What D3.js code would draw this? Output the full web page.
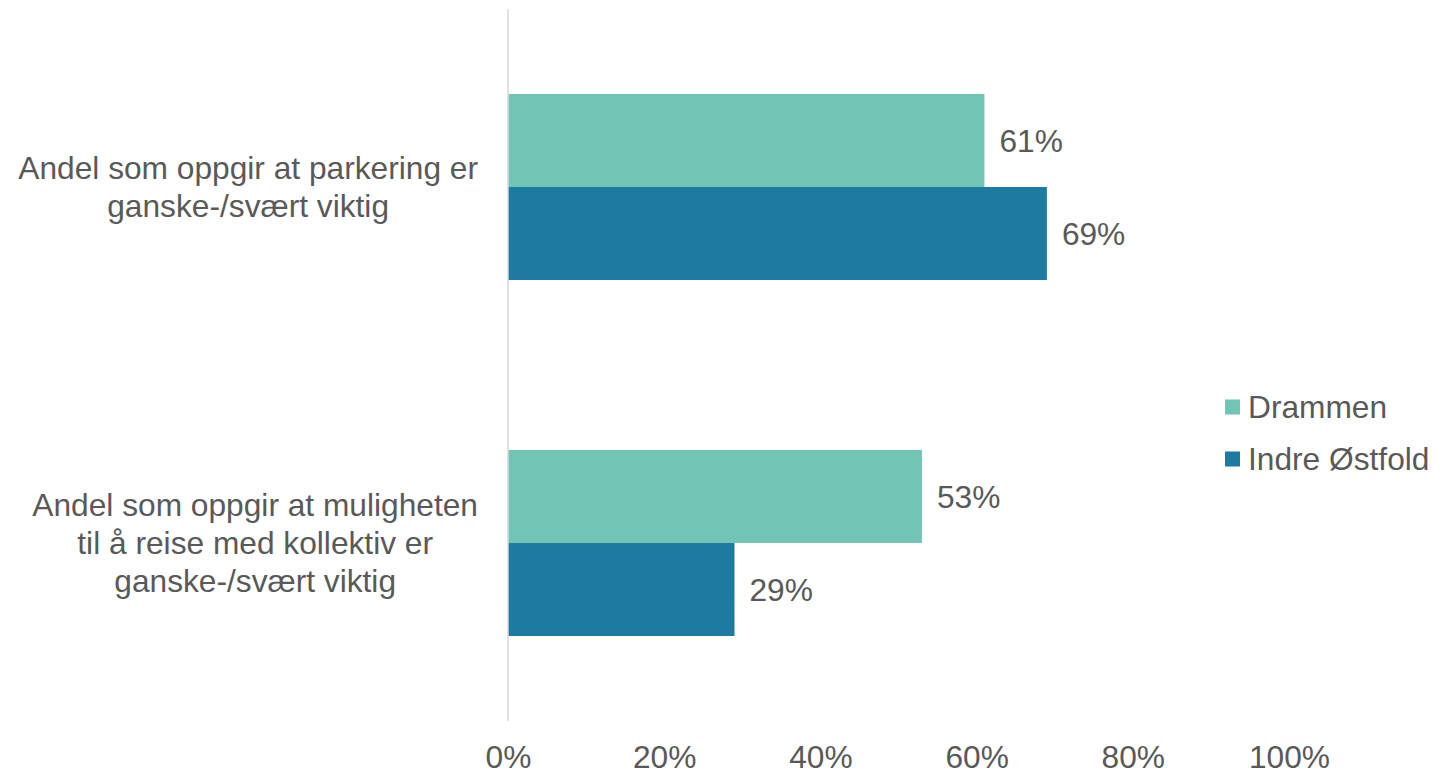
<!DOCTYPE html>
<html><head><meta charset="utf-8">
<script src="https://cdn.jsdelivr.net/npm/d3@7"></script>
<style>
html,body{margin:0;padding:0;background:#fff;}
svg{display:block;font-family:"Liberation Sans",Arial,sans-serif;}
</style></head><body>
<svg id="chart" width="1455" height="775"></svg>
<script>
const categories = [
  ["Andel som oppgir at parkering er", "ganske-/svært viktig"],
  ["Andel som oppgir at muligheten", "til å reise med kollektiv er", "ganske-/svært viktig"]
];
const categoryKeys = ["parkering", "kollektiv"];
const seriesNames = ["Drammen", "Indre Østfold"];
const drammenValues = [0.61, 0.53];
const indreOstfoldValues = [0.69, 0.29];
const tickValues = [0, 0.2, 0.4, 0.6, 0.8, 1.0];
const colors = ["#72C4B5", "#1D7BA1"];

const series = [drammenValues, indreOstfoldValues];
const svg = d3.select("#chart");
const textColor = "#595959";
const fontSize = 31.7;

const x = d3.scaleLinear().domain([0, 1]).range([508, 1289]);
const y = d3.scaleBand().domain(categoryKeys).range([9, 721]).paddingInner(0.4775).paddingOuter(0.2388);
const ySub = d3.scaleBand().domain(seriesNames).range([0, y.bandwidth()]);

// bars
categoryKeys.forEach((k, ci) => {
  const g = svg.append("g").attr("transform", `translate(0,${y(k)})`);
  seriesNames.forEach((s, si) => {
    const v = series[si][ci];
    g.append("rect")
      .attr("x", x(0)).attr("y", ySub(s))
      .attr("width", x(v) - x(0)).attr("height", ySub.bandwidth())
      .attr("fill", colors[si]);
    g.append("text")
      .attr("x", x(v) + 15).attr("y", ySub(s) + ySub.bandwidth() / 2)
      .attr("dy", "0.35em")
      .attr("fill", textColor).attr("font-size", fontSize)
      .text(Math.round(v * 100) + "%");
  });
});

// vertical axis line
svg.append("line")
  .attr("x1", x(0)).attr("x2", x(0))
  .attr("y1", y.range()[0]).attr("y2", y.range()[1])
  .attr("stroke", "#D9D9D9").attr("stroke-width", 1.5);

// x axis labels
const xAxis = d3.axisBottom(x).tickValues(tickValues).tickSize(0).tickPadding(24.3)
  .tickFormat(d3.format(".0%"));
const gx = svg.append("g").attr("transform", `translate(0,${y.range()[1]})`).call(xAxis);
gx.select(".domain").remove();
gx.selectAll("text").attr("fill", textColor).attr("font-size", fontSize)
  .attr("font-family", "Liberation Sans, Arial, sans-serif");

// category labels: block right-aligned at 478, lines centered within block
const lineH = 38;
const rightEdge = 478;
categoryKeys.forEach((k, ci) => {
  const lines = categories[ci];
  const cy = y(k) + y.bandwidth() / 2;
  const t = svg.append("text")
    .attr("text-anchor", "middle")
    .attr("fill", textColor).attr("font-size", fontSize);
  const spans = lines.map((ln, li) => t.append("tspan")
      .attr("y", cy + (li - (lines.length - 1) / 2) * lineH)
      .attr("dy", "0.35em")
      .text(ln));
  const maxW = d3.max(spans, s => s.node().getComputedTextLength());
  spans.forEach(s => s.attr("x", rightEdge - maxW / 2));
});

// legend
const legend = svg.append("g");
seriesNames.forEach((s, si) => {
  const ly = 407 + si * 52;
  legend.append("rect").attr("x", 1225).attr("y", ly - 7.5).attr("width", 15).attr("height", 15).attr("fill", colors[si]);
  legend.append("text").attr("x", 1248).attr("y", ly).attr("dy", "0.35em")
    .attr("fill", textColor).attr("font-size", fontSize).text(s);
});
</script>
</body></html>
